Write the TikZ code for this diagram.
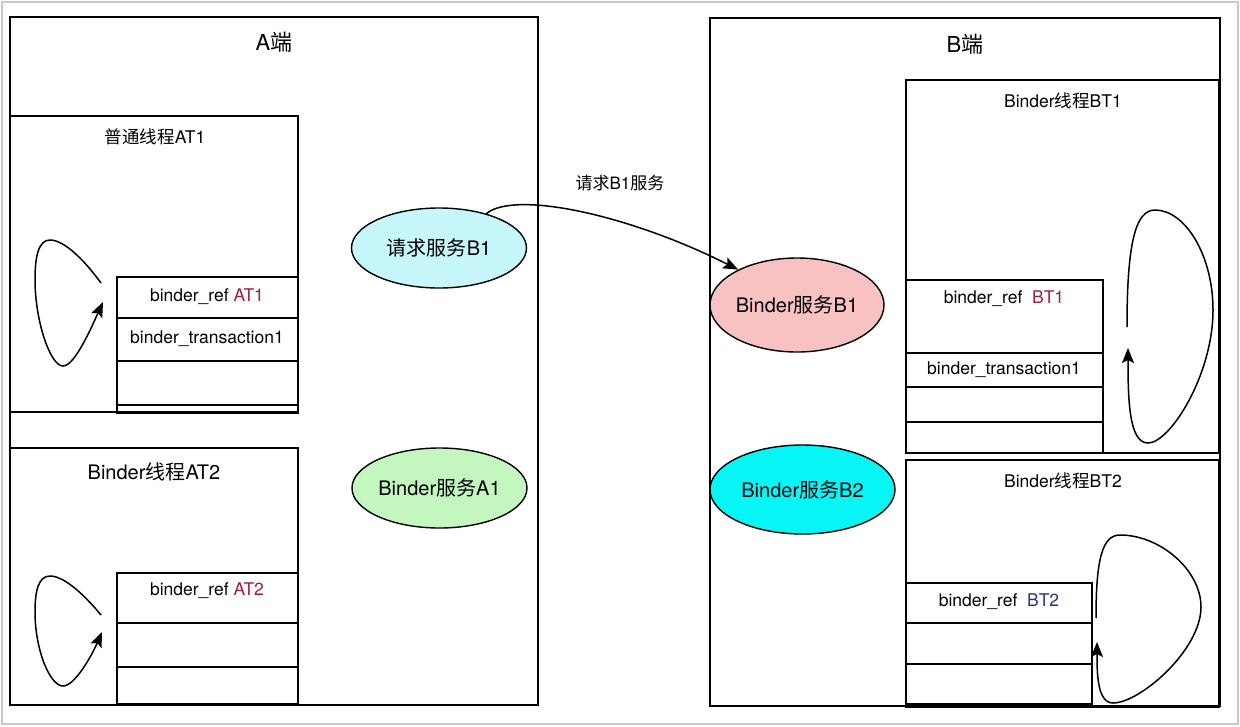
\documentclass[tikz,border=0pt]{standalone}
\usepackage{fontspec}
\setmainfont{TeX Gyre Heros}
\newfontfamily\cjk{Noto Sans CJK SC}
\usetikzlibrary{arrows.meta,shapes.geometric}
\definecolor{reqfill}{HTML}{C8F7FB}
\definecolor{aonefill}{HTML}{C4F6C0}
\definecolor{bonefill}{HTML}{F8C2C2}
\definecolor{btwofill}{HTML}{06F6F6}
\definecolor{framegray}{HTML}{C8C8C8}
\definecolor{redtxt}{HTML}{9E1F3C}
\definecolor{bluetxt}{HTML}{1E3D6E}
\begin{document}
\begin{tikzpicture}[x=1pt,y=-1pt,
  box/.style={draw=black,line width=1.5pt},
  lbl/.style={inner sep=0pt,font=\fontsize{17.5}{19}\selectfont},
  ttl/.style={inner sep=0pt,font=\fontsize{17.5}{19}\selectfont},
  bigttl/.style={inner sep=0pt,font=\fontsize{22}{24}\selectfont},
  ell/.style={ellipse,draw=black,line width=1.4pt,inner sep=0pt,font=\fontsize{20}{22}\selectfont},
  arr/.style={draw=black,line width=1.5pt,-{Stealth[length=15pt,width=12pt,inset=3pt]}}
]
\useasboundingbox (0,0) rectangle (1240,726);
\fill[white] (0,0) rectangle (1240,726);
\draw[framegray,line width=1.5pt] (2,2) rectangle (1238,724);

% ---------- A side ----------
\draw[box] (10,17) rectangle (538,705);
\node[bigttl] (atitle) at (274,42) {A{\cjk 端}};

\draw[box] (10,116) rectangle (298,412);
\node[ttl] (at1title) at (155,137) {{\cjk 普通线程}AT1};
\draw[box] (117,277) rectangle (298,318);
\draw[box] (117,318) rectangle (298,361);
\draw[box] (117,361) rectangle (298,405);
\draw[box] (117,405) rectangle (298,413);
\node[lbl] (refat1) at (207,297) {binder\_ref \textcolor{redtxt}{AT1}};
\node[lbl] (trat1) at (207,339) {binder\_transaction1};

\draw[box] (10,448) rectangle (298,705);
\node[inner sep=0pt,font=\fontsize{20}{22}\selectfont] (at2title) at (154,472) {Binder{\cjk 线程}AT2};
\draw[box] (117,573) rectangle (298,623);
\draw[box] (117,623) rectangle (298,667);
\draw[box] (117,667) rectangle (298,704);
\node[lbl] (refat2) at (207,591) {binder\_ref \textcolor{redtxt}{AT2}};

% loops on A side
\coordinate (la1s) at (101,283);
\coordinate (la1e) at (103,302);
\draw[arr] (la1s) .. controls (82,257) and (63,240) .. (50,240)
  .. controls (38,240) and (35,258) .. (35,280)
  .. controls (35,320) and (50,366) .. (63,366)
  .. controls (75,366) and (92,326) .. (la1e);
\coordinate (la2s) at (101,615);
\coordinate (la2e) at (102,632);
\draw[arr] (la2s) .. controls (82,592) and (63,576) .. (50,576)
  .. controls (38,576) and (35,592) .. (35,612)
  .. controls (35,650) and (50,686) .. (63,686)
  .. controls (75,686) and (92,655) .. (la2e);

% ---------- B side ----------
\draw[box] (710,18) rectangle (1220,706);
\node[bigttl] (btitle) at (965,44) {B{\cjk 端}};

\draw[box] (906,80) rectangle (1219,453);
\node[ttl] (bt1title) at (1063,101) {Binder{\cjk 线程}BT1};
\draw[box] (906,280) rectangle (1103,353);
\draw[box] (906,353) rectangle (1103,387);
\draw[box] (906,387) rectangle (1103,422);
\draw[box] (906,422) rectangle (1103,453);
\node[lbl] (refbt1) at (1004,299) {binder\_ref\ \ \textcolor{redtxt}{BT1}};
\node[lbl] (trbt1) at (1004,370) {binder\_transaction1};

\draw[box] (906,460) rectangle (1219,707);
\node[ttl] (bt2title) at (1063,481) {Binder{\cjk 线程}BT2};
\draw[box] (906,583) rectangle (1092,623);
\draw[box] (906,623) rectangle (1092,664);
\draw[box] (906,664) rectangle (1092,704);
\node[lbl] (refbt2) at (999,602) {binder\_ref\ \ \textcolor{bluetxt}{BT2}};

% loops on B side
\coordinate (lb1s) at (1127,327);
\coordinate (lb1e) at (1128,348);
\draw[arr] (lb1s) .. controls (1127,245) and (1135,210) .. (1155,210)
  .. controls (1185,210) and (1213,255) .. (1213,310)
  .. controls (1213,375) and (1170,443) .. (1148,443)
  .. controls (1129,443) and (1128,400) .. (lb1e);
\coordinate (lb2s) at (1096,618);
\coordinate (lb2e) at (1097,642);
\draw[arr] (lb2s) .. controls (1096,560) and (1102,535) .. (1120,535)
  .. controls (1160,535) and (1201,570) .. (1201,607)
  .. controls (1201,650) and (1140,703) .. (1113,703)
  .. controls (1097,703) and (1097,672) .. (lb2e);

% ---------- ellipses ----------
\node[ell,fill=reqfill,minimum width=175pt,minimum height=80pt] (req) at (439,248) {{\cjk 请求服务}B1};
\node[ell,fill=aonefill,minimum width=175pt,minimum height=80pt] (sa1) at (439.5,488) {Binder{\cjk 服务}A1};
\node[ell,fill=bonefill,minimum width=174pt,minimum height=94pt] (sb1) at (797,305) {Binder{\cjk 服务}B1};
\node[ell,fill=btwofill,minimum width=185pt,minimum height=89pt] (sb2) at (802.5,489.5) {Binder{\cjk 服务}B2};

% request arrow
\draw[arr] (req.36) .. controls (515,190) and (630,215) .. (sb1.149);
\node[inner sep=0pt,font=\fontsize{17}{19}\selectfont] (reqlbl) at (620,183) {{\cjk 请求}B1{\cjk 服务}};
\end{tikzpicture}
\end{document}
